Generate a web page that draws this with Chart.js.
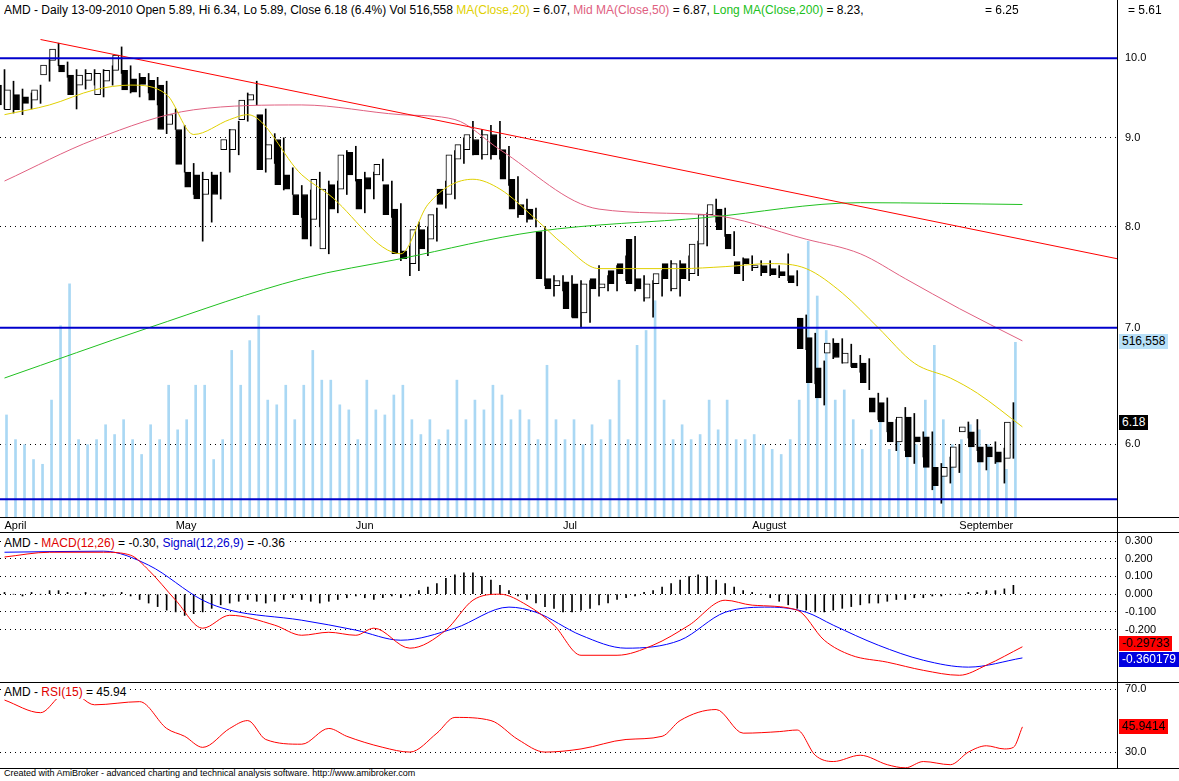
<!DOCTYPE html>
<html><head><meta charset="utf-8">
<script src="https://cdn.jsdelivr.net/npm/chart.js@4"></script>
<style>
body{margin:0;background:#fff;width:1179px;height:781px;overflow:hidden;font-family:"Liberation Sans",Arial,sans-serif;}
.pan{position:absolute;left:0;width:1179px;}
.txt{position:absolute;font-size:12px;white-space:nowrap;color:#000}
.hd{background:#fff;z-index:2;padding-right:3px}
.tk{position:absolute;font-size:11px;white-space:nowrap;color:#000;left:1125px;line-height:13px}
.box{position:absolute;font-size:12px;padding:0 3px;line-height:15px}
.ln{position:absolute;background:#000}
</style></head><body>
<div class="pan" style="top:0;height:531px"><canvas id="c1"></canvas></div>
<div class="pan" style="top:534px;height:148px"><canvas id="c2"></canvas></div>
<div class="pan" style="top:684px;height:84px"><canvas id="c3"></canvas></div>
<div class="ln" style="left:0;top:517px;width:1179px;height:1px"></div>
<div class="ln" style="left:0;top:532px;width:1179px;height:1px"></div>
<div class="ln" style="left:0;top:682px;width:1179px;height:1px"></div>
<div class="ln" style="left:0;top:768px;width:1179px;height:1px"></div>
<div class="ln" style="left:1117px;top:0;width:1px;height:768px"></div>
<div class="txt hd" style="left:4px;top:3px">AMD - Daily 13-09-2010 Open 5.89, Hi 6.34, Lo 5.89, Close 6.18 (6.4%) Vol 516,558 <span style="color:#e0d000">MA(Close,20)</span> = 6.07, <span style="color:#e06080">Mid MA(Close,50)</span> = 6.87, <span style="color:#20c020">Long MA(Close,200)</span> = 8.23,</div>
<div class="txt" style="left:985px;top:3px">= 6.25</div>
<div class="txt" style="left:1128px;top:3px">= 5.61</div>
<div class="txt hd" style="left:4px;top:536px">AMD - <span style="color:#e00000">MACD(12,26)</span> = -0.30, <span style="color:#0000d0">Signal(12,26,9)</span> = -0.36</div>
<div class="txt hd" style="left:4px;top:685px">AMD - <span style="color:#e00000">RSI(15)</span> = 45.94</div>
<div class="txt" style="left:4px;top:768px;font-size:9px">Created with AmiBroker - advanced charting and technical analysis software. http://www.amibroker.com</div>
<div class="box" style="left:1119px;top:334px;background:#b8e0f8;color:#000;z-index:3">516,558</div>
<div class="box" style="left:1119px;top:415px;background:#000;color:#fff;z-index:3">6.18</div>
<div class="box" style="left:1119px;top:636px;background:#ff0000;color:#000;z-index:3">-0.29733</div>
<div class="box" style="left:1119px;top:652px;background:#0000e0;color:#fff;z-index:3">-0.360179</div>
<div class="box" style="left:1119px;top:719px;background:#ff0000;color:#000;z-index:3">45.9414</div>
<script>
const opens=[9.65,9.34,9.53,9.5,9.46,9.78,9.97,9.91,9.78,9.65,9.71,9.53,9.7,9.84,9.84,9.73,9.75,9.71,9.65,9.16,9.1,8.6,8.57,8.35,8.57,8.86,8.86,9.22,9.46,9.28,8.75,8.98,8.57,8.35,8.35,8.08,7.77,8.46,8.41,8.83,8.52,8.54,8.57,8.46,8.19,7.75,7.62,7.97,7.87,8.41,8.35,8.75,8.86,8.98,8.8,9.04,8.86,8.52,8.24,8.19,7.95,7.47,7.4,7.44,7.42,7.14,7.47,7.38,7.55,7.62,7.87,7.47,7.28,7.42,7.62,7.37,7.62,7.52,7.82,8.13,8.19,7.92,7.64,7.67,7.58,7.6,7.57,7.54,7.5,7.09,6.91,6.64,6.77,6.86,6.68,6.68,6.68,6.38,6.34,6.18,6.02,6.22,6.06,6.06,5.82,5.75,5.82,6.1,6.1,5.98,5.98,5.94,5.89];
const closes=[9.4,9.59,9.34,9.42,9.59,9.91,10.12,9.82,9.53,9.78,9.8,9.8,9.84,10.04,9.59,9.56,9.66,9.46,9.1,9.28,8.69,8.43,8.3,8.52,8.35,8.98,9.1,9.46,9.53,8.63,8.92,8.46,8.41,8.13,7.87,8.52,8.41,8.19,8.8,8.57,8.19,8.41,8.69,8.13,7.72,7.67,7.97,7.77,8.13,8.24,8.8,8.92,9.04,8.8,9.04,8.8,8.52,8.19,8.13,8.08,7.47,7.37,7.45,7.18,7.09,7.42,7.37,7.42,7.42,7.52,7.42,7.37,7.42,7.52,7.47,7.62,7.47,7.82,8.13,8.24,7.97,7.77,7.52,7.62,7.6,7.53,7.51,7.5,7.43,6.81,6.51,6.38,6.86,6.73,6.77,6.64,6.51,6.26,6.18,6.02,6.22,5.9,6.02,5.82,5.68,5.82,5.98,6.14,5.98,5.86,5.9,5.86,6.18];
const highs=[9.85,9.7,9.6,9.55,9.65,10.0,10.2,9.95,9.85,9.85,9.85,9.85,9.9,10.15,9.9,9.8,9.8,9.75,9.7,9.35,9.15,8.7,8.6,8.6,8.6,9.1,9.2,9.55,9.7,9.35,9.05,9.0,8.65,8.45,8.4,8.6,8.5,8.5,8.85,8.9,8.6,8.6,8.75,8.5,8.25,7.8,8.05,8.0,8.2,8.5,8.85,9.0,9.2,9.1,9.15,9.2,8.9,8.55,8.3,8.2,8.0,7.5,7.5,7.5,7.45,7.45,7.6,7.5,7.6,7.7,7.9,7.5,7.45,7.55,7.65,7.65,7.7,7.85,8.15,8.3,8.2,7.95,7.68,7.7,7.65,7.65,7.6,7.72,7.55,7.12,6.95,6.7,6.9,6.9,6.85,6.75,6.72,6.42,6.38,6.2,6.3,6.25,6.1,6.1,5.85,5.9,6.0,6.18,6.2,6.0,6.02,5.97,6.34];
const lows=[9.35,9.3,9.28,9.35,9.42,9.7,9.9,9.75,9.35,9.6,9.65,9.5,9.65,9.8,9.55,9.5,9.55,9.4,9.05,9.1,8.6,8.35,7.85,8.05,8.3,8.6,8.8,9.2,9.4,8.6,8.7,8.4,8.35,8.1,7.8,8.0,7.72,8.15,8.35,8.5,8.15,8.3,8.5,8.1,7.65,7.5,7.55,7.7,7.85,8.2,8.3,8.7,8.8,8.75,8.75,8.75,8.45,8.1,8.05,8.0,7.4,7.3,7.35,7.1,7.0,7.05,7.3,7.35,7.35,7.45,7.35,7.25,7.1,7.3,7.35,7.3,7.45,7.5,7.8,8.05,7.9,7.7,7.45,7.55,7.5,7.5,7.48,7.45,7.4,6.8,6.5,6.32,6.72,6.68,6.65,6.6,6.45,6.2,6.1,5.95,5.95,5.85,5.9,5.65,5.55,5.7,5.78,6.05,5.95,5.8,5.85,5.7,5.89];
const volumeK=[302,229,214,170,156,346,566,690,229,214,229,273,244,288,229,185,273,229,390,258,288,390,390,170,229,493,390,522,596,346,332,390,288,390,493,405,405,332,317,229,405,317,302,361,390,288,244,288,229,258,405,288,346,317,390,361,288,317,288,229,449,288,229,288,214,273,229,288,405,229,508,552,640,346,229,273,229,244,346,258,346,229,229,244,214,200,185,229,346,816,654,552,346,376,288,200,258,317,200,288,229,214,346,508,288,214,229,273,258,214,170,141,517];
const monthIdx=[0,19,39,62,83,106];
const monthNames=["April","May","Jun","Jul","August","September"];
const ma20Idx=[0,5,10,14,18,21,25,27,33,36,44,47,52,55,59,62,66,75,80,85,89,93,97,101,105,108,113];
const ma20Val=[9.28,9.4,9.59,9.65,9.53,9.04,9.22,9.28,8.57,8.35,7.72,8.24,8.52,8.41,8.08,7.82,7.57,7.57,7.59,7.62,7.57,7.33,7.0,6.68,6.55,6.42,6.14];
const ma50Idx=[0,10,21,33,44,50,55,66,78,89,95,100,106,113];
const ma50Val=[8.5,8.98,9.34,9.4,9.28,9.22,8.86,8.19,8.13,7.87,7.72,7.47,7.18,6.88];
const ma200Idx=[0,16,33,44,59,78,95,113];
const ma200Val=[6.55,7.0,7.47,7.67,7.95,8.1,8.26,8.24];
const trendIdx=[4,123.5];
const trendVal=[10.25,7.67];
const hLines=[10.0,7.0,5.58];
const priceTicks=[6,7,8,9,10];
const macdTicks=[0.3,0.2,0.1,0,-0.1,-0.2];
const rsiTicks=[70,30];
const macdIdx=[0,5,11,14,16,19,22,25,30,33,36,39,41,45,49,52,55,58,61,64,68,72,76,80,83,88,91,94,98,102,106,109,113];
const macdVal=[0.21,0.237,0.237,0.22,0.136,-0.034,-0.192,-0.119,-0.175,-0.232,-0.215,-0.232,-0.192,-0.305,-0.203,-0.034,0.0,-0.062,-0.175,-0.345,-0.345,-0.288,-0.175,-0.034,-0.062,-0.09,-0.26,-0.345,-0.384,-0.43,-0.458,-0.401,-0.297];
const sigIdx=[0,11,16,22,25,33,39,44,50,56,59,64,69,75,80,85,89,92,97,102,107,113];
const sigVal=[0.237,0.243,0.164,-0.034,-0.09,-0.147,-0.203,-0.26,-0.192,-0.073,-0.102,-0.232,-0.305,-0.26,-0.102,-0.073,-0.102,-0.175,-0.288,-0.373,-0.412,-0.36];
const histVal=[0.01,0.0,-0.01,0.01,0.0,0.02,0.02,0.01,0.0,0.01,0.0,-0.01,0.0,0.01,-0.01,-0.03,-0.05,-0.07,-0.09,-0.1,-0.12,-0.11,-0.1,-0.08,-0.06,-0.05,-0.04,-0.03,-0.04,-0.05,-0.04,-0.03,-0.02,-0.03,-0.04,-0.05,-0.04,-0.03,-0.02,-0.01,-0.02,-0.03,-0.02,-0.01,-0.02,-0.01,0.02,0.04,0.06,0.09,0.11,0.12,0.12,0.1,0.08,0.05,0.02,-0.01,-0.03,-0.05,-0.07,-0.08,-0.1,-0.1,-0.09,-0.08,-0.06,-0.05,-0.03,-0.02,-0.01,0.01,0.02,0.04,0.06,0.08,0.1,0.11,0.1,0.08,0.06,0.04,0.02,0.01,0.0,-0.02,-0.04,-0.06,-0.08,-0.09,-0.1,-0.1,-0.09,-0.08,-0.07,-0.06,-0.05,-0.05,-0.04,-0.03,-0.03,-0.02,-0.02,-0.01,-0.01,0.0,0.0,0.01,0.01,0.02,0.02,0.03,0.05];
const rsiIdx=[0,4,6,7,10,15,18,20,22,25,27,29,33,36,38,42,45,48,50,54,57,60,64,69,73,75,79,82,86,88,90,92,95,98,100,102,105,107,109,111,112,113];
const rsiVal=[63,55,65,70,60,62,45,40,33,45,50,38,35,45,40,33,30,42,52,50,38,30,32,38,40,50,57,42,43,44,28,24,28,22,20,24,22,30,34,32,33,46];

const XMIN=-0.5,XMAX=123.5;
const pts=(ix,v)=>ix.map((x,i)=>({x:x,y:v[i]}));
function rightAxis(extra,ticks){return Object.assign({position:'right',afterFit(s){s.width=62;},border:{display:false,dash:[1,4]},grid:{color:'#000',drawTicks:false},
  afterBuildTicks(s){s.ticks=ticks.map(v=>({value:v}));},ticks:{display:false}},extra);}
function xAxis(show){return {type:'linear',offset:false,min:XMIN,max:XMAX,display:show,grid:{display:false,offset:false,drawTicks:false,tickLength:0},border:{display:false},
  afterFit(s){s.height=show?14:0;},
  afterBuildTicks(s){s.ticks=monthIdx.map(v=>({value:v}));},
  ticks:{autoSkip:false,maxRotation:0,color:'#000',font:{size:11,family:'Liberation Sans'},padding:2,align:'start',callback:(v)=>monthNames[monthIdx.indexOf(v)]}};}
const base={responsive:false,animation:false,events:[],layout:{padding:0},plugins:{legend:{display:false},tooltip:{enabled:false}}};
const line=(data,color,w,order)=>({type:'line',data,borderColor:color,borderWidth:w||1,pointRadius:0,cubicInterpolationMode:'monotone',spanGaps:true,order:order||1});
function mk(id,h){const c=document.getElementById(id);c.width=1179;c.height=h;return c;}
function labels(chart,top,ticks,fmt){const s=chart.scales.y;ticks.forEach(v=>{const d=document.createElement('div');d.className='tk';d.textContent=fmt(v);d.style.top=(top+s.getPixelForValue(v)-7)+'px';document.body.appendChild(d);});}
const idx=closes.map((_,i)=>i);

const c1=new Chart(mk('c1',531),{type:'bar',data:{datasets:[
  Object.assign(line(pts(trendIdx,trendVal),'#ff0000',1,0),{cubicInterpolationMode:'default',tension:0}),
  ...hLines.map(v=>({type:'line',data:[{x:XMIN,y:v},{x:XMAX,y:v}],borderColor:'#0000cc',borderWidth:2,pointRadius:0,order:0})),
  line(pts(ma20Idx,ma20Val),'#e0d000',1,1),
  line(pts(ma50Idx,ma50Val),'#e06080',1,1),
  line(pts(ma200Idx,ma200Val),'#20c020',1,1),
  {data:idx.map(i=>({x:i,y:[opens[i],closes[i]]})),backgroundColor:idx.map(i=>closes[i]<opens[i]?'#000':'#fff'),borderColor:'#000',borderWidth:1,borderSkipped:false,barThickness:6,order:2},
  {data:idx.map(i=>({x:i,y:[lows[i],highs[i]]})),backgroundColor:'#000',barThickness:1,order:3},
  {data:idx.map(i=>({x:i,y:volumeK[i]})),backgroundColor:'#aad8f4',barThickness:2,yAxisID:'v',order:5}
]},options:Object.assign({},base,{scales:{
  x:xAxis(true),
  y:rightAxis({type:'logarithmic',min:5.45,max:10.8},priceTicks),
  v:{display:false,min:0,max:1530}
}})});
labels(c1,0,priceTicks,v=>v.toFixed(1));

const c2=new Chart(mk('c2',148),{type:'bar',data:{datasets:[
  line(pts(macdIdx,macdVal),'#ff0000',1,0),
  line(pts(sigIdx,sigVal),'#0000ff',1,0),
  {data:idx.map(i=>({x:i,y:histVal[i]})),backgroundColor:'#000',barThickness:1,order:2}
]},options:Object.assign({},base,{scales:{x:xAxis(false),y:rightAxis({min:-0.496,max:0.34},macdTicks)}})});
labels(c2,534,macdTicks,v=>v.toFixed(3));

const c3=new Chart(mk('c3',84),{type:'line',data:{datasets:[line(pts(rsiIdx,rsiVal),'#ff0000',1,0)]},
 options:Object.assign({},base,{scales:{x:xAxis(false),y:rightAxis({min:19.9,max:73.2},rsiTicks)}})});
labels(c3,684,rsiTicks,v=>v.toFixed(1));
</script></body></html>
